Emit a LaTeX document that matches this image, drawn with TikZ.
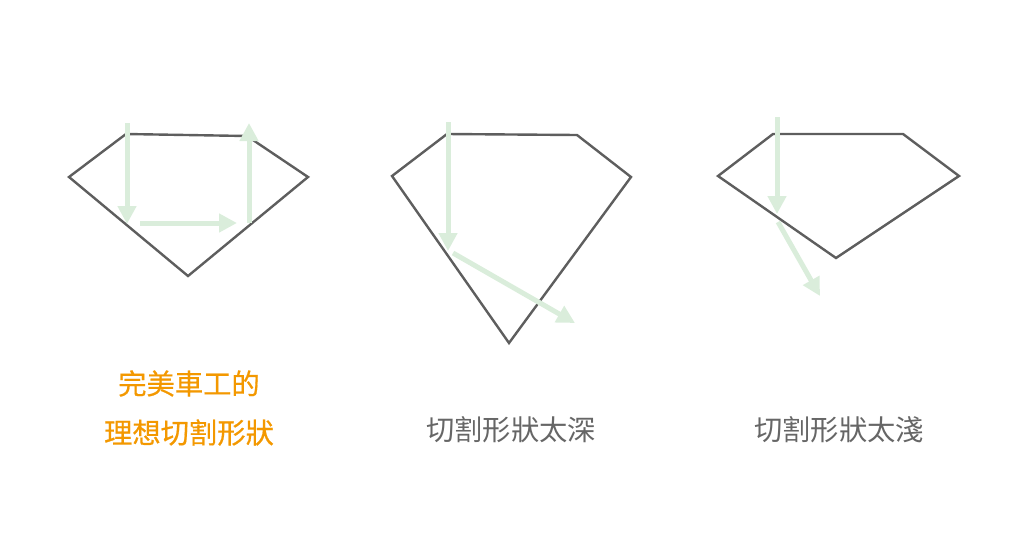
\documentclass[tikz,border=0pt]{standalone}
\usepackage{fontspec}
\usepackage{tikz}
\usetikzlibrary{arrows.meta}
\newfontfamily\cjk{Noto Sans CJK TC}
\newfontfamily\cjkheavy[FakeBold=0.6]{Noto Sans CJK TC}
\definecolor{gemgray}{HTML}{5E5E5E}
\definecolor{raygreen}{HTML}{DAEDDB}
\definecolor{labelorange}{HTML}{F39800}
\definecolor{labelgray}{HTML}{666666}
\newcommand{\labeltext}{\fontsize{28.3}{49}\selectfont}

\begin{document}
\begin{tikzpicture}[x=1pt,y=-1pt,
  gem/.style={draw=gemgray,line width=2.4pt,line join=miter},
  ray/.style={draw=raygreen,line width=5pt,-{Triangle[length=18pt,width=18pt]}}]
\useasboundingbox (0,0) rectangle (1024,542);

% ideal cut
\coordinate (idealtl) at (126,134);
\coordinate (idealtr) at (247,136);
\coordinate (idealr) at (308,177);
\coordinate (idealb) at (188,276);
\coordinate (ideall) at (69,177);
\draw[gem] (idealtl) -- (idealtr) -- (idealr) -- (idealb) -- (ideall) -- cycle;
\coordinate (idealin) at (127,123);
\coordinate (idealhit) at (127,224);
\coordinate (idealgo) at (140,223);
\coordinate (idealturn) at (237,223);
\coordinate (idealup) at (249,223);
\coordinate (idealout) at (249,123);
\draw[ray] (idealin) -- (idealhit);
\draw[ray] (idealgo) -- (idealturn);
\draw[ray] (idealup) -- (idealout);

% too deep
\coordinate (deeptl) at (447,134);
\coordinate (deeptr) at (577,135);
\coordinate (deepr) at (631,177);
\coordinate (deepb) at (509,343);
\coordinate (deepl) at (392,176);
\draw[gem] (deeptl) -- (deeptr) -- (deepr) -- (deepb) -- (deepl) -- cycle;
\coordinate (deepin) at (448,122);
\coordinate (deephit) at (448,251);
\coordinate (deepgo) at (453,253);
\coordinate (deepout) at (575,323);
\draw[ray] (deepin) -- (deephit);
\draw[ray] (deepgo) -- (deepout);

% too shallow
\coordinate (shallowtl) at (773,134);
\coordinate (shallowtr) at (903,134);
\coordinate (shallowr) at (959,176);
\coordinate (shallowb) at (836,258);
\coordinate (shallowl) at (718,176);
\draw[gem] (shallowtl) -- (shallowtr) -- (shallowr) -- (shallowb) -- (shallowl) -- cycle;
\coordinate (shallowin) at (777,117);
\coordinate (shallowhit) at (777,214);
\coordinate (shallowgo) at (778,222);
\coordinate (shallowout) at (820,296);
\draw[ray] (shallowin) -- (shallowhit);
\draw[ray] (shallowgo) -- (shallowout);

\node[text=labelorange,font=\labeltext\cjkheavy,align=center,inner sep=0pt] (ideallabel) at (189,408) {完美車工的\\理想切割形狀};
\node[text=labelgray,font=\labeltext\cjk,inner sep=0pt] (deeplabel) at (511,430) {切割形狀太深};
\node[text=labelgray,font=\labeltext\cjk,inner sep=0pt] (shallowlabel) at (839,430) {切割形狀太淺};
\end{tikzpicture}
\end{document}
